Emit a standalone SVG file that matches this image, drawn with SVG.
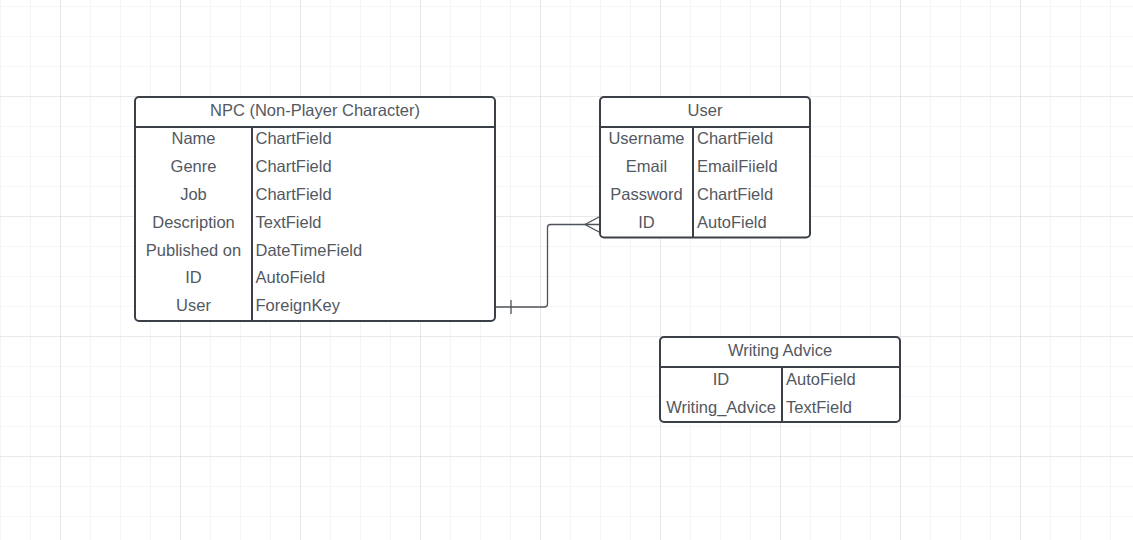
<svg xmlns="http://www.w3.org/2000/svg" width="1133" height="540" viewBox="0 0 1133 540">
<defs>
<pattern id="minor" x="0" y="6" width="30" height="30" patternUnits="userSpaceOnUse">
<path d="M0 0H30M0 0V30" fill="none" stroke="#ededed" stroke-width="1.2"/>
</pattern>
<pattern id="major" x="60" y="96" width="120" height="120" patternUnits="userSpaceOnUse">
<path d="M0 0H120M0 0V120" fill="none" stroke="#dcdcdc" stroke-width="1.2"/>
</pattern>
</defs>
<style>
.box{fill:#ffffff;stroke:#3b4048;stroke-width:2}
.ln{stroke:#3b4048;stroke-width:2;fill:none}
.t{font-family:"Liberation Sans",Arial,sans-serif;font-size:16.5px;fill:#53585f}
.c{text-anchor:middle}
.conn{stroke:#4d535a;stroke-width:1.3;fill:none}
</style>
<rect width="1133" height="540" fill="#ffffff"/>
<rect width="1133" height="540" fill="url(#minor)"/>
<rect width="1133" height="540" fill="url(#major)"/>

<g id="connectors">
<path class="conn" d="M495 307H544.5Q547.5 307 547.5 304V227.5Q547.5 224.5 550.5 224.5H600"/>
<path class="conn" d="M511 300V314"/>
<path class="conn" d="M599 217L585 224.5L599 232"/>
</g>

<g id="npc">
<rect class="box" x="135" y="97" width="360" height="224" rx="4"/>
<path class="ln" d="M135 127H495M252 127V321"/>
<text class="t c" x="315" y="116">NPC (Non-Player Character)</text>
<text class="t c" x="193.5" y="144">Name</text>
<text class="t c" x="193.5" y="172">Genre</text>
<text class="t c" x="193.5" y="200">Job</text>
<text class="t c" x="193.5" y="228">Description</text>
<text class="t c" x="193.5" y="256">Published on</text>
<text class="t c" x="193.5" y="283">ID</text>
<text class="t c" x="193.5" y="311">User</text>
<text class="t" x="255.5" y="144">ChartField</text>
<text class="t" x="255.5" y="172">ChartField</text>
<text class="t" x="255.5" y="200">ChartField</text>
<text class="t" x="255.5" y="228">TextField</text>
<text class="t" x="255.5" y="256">DateTimeField</text>
<text class="t" x="255.5" y="283">AutoField</text>
<text class="t" x="255.5" y="311">ForeignKey</text>
</g>

<g id="user">
<rect class="box" x="600" y="97" width="210" height="140.5" rx="4"/>
<path class="ln" d="M600 127H810M693 127V237.5"/>
<text class="t c" x="705" y="116">User</text>
<text class="t c" x="646.5" y="144">Username</text>
<text class="t c" x="646.5" y="172">Email</text>
<text class="t c" x="646.5" y="200">Password</text>
<text class="t c" x="646.5" y="228">ID</text>
<text class="t" x="697" y="144">ChartField</text>
<text class="t" x="697" y="172">EmailFiield</text>
<text class="t" x="697" y="200">ChartField</text>
<text class="t" x="697" y="228">AutoField</text>
</g>

<g id="writing-advice">
<rect class="box" x="660" y="337" width="240" height="85" rx="4"/>
<path class="ln" d="M660 367H900M782 367V422"/>
<text class="t c" x="780" y="356">Writing Advice</text>
<text class="t c" x="721" y="385">ID</text>
<text class="t c" x="721" y="413">Writing_Advice</text>
<text class="t" x="786" y="385">AutoField</text>
<text class="t" x="786" y="413">TextField</text>
</g>
</svg>
